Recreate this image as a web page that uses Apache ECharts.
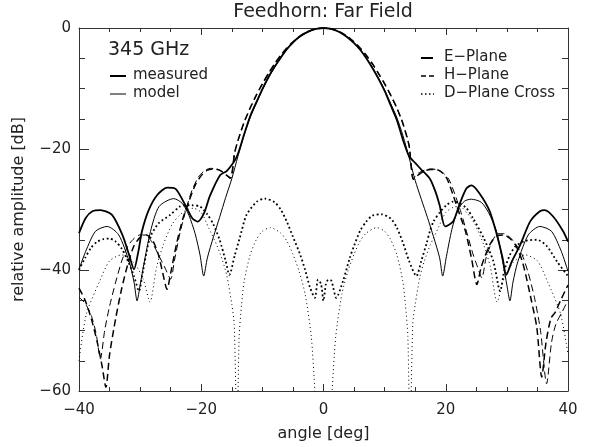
<!DOCTYPE html>
<html>
<head>
<meta charset="utf-8">
<script src="https://cdn.jsdelivr.net/npm/echarts@6/dist/echarts.min.js"></script>
<style>
html, body { margin: 0; padding: 0; background: #fff; }
#chart { width: 600px; height: 447px; }
</style>
</head>
<body>
<div id="chart"></div>
<script>
// values (angle in deg, amplitude in dB)
var xTicks = [-40, -20, 0, 20, 40];
var yTicks = [0, -20, -40, -60];

// E-plane, measured (thick solid)
var eMeasAng = [-40, -38.9, -37.8, -36.5, -34.6, -32.9, -31.8, -31, -30.3, -29.7, -28.6, -27.2, -25.6, -24.2, -22.6, -21.5, -20.6, -19.5, -18.6, -16.9, -15.8, -14.2, -13, -12, -11, -10, -9, -8, -7, -6, -5, -4, -3, -2, -1, 0, 1, 2, 3, 4, 5, 6, 7, 8, 9, 10, 11, 12, 13, 14, 15, 16, 17.4, 18.3, 19, 19.9, 21.2, 22.3, 23.4, 24.2, 25.5, 27.2, 28.5, 29.3, 29.9, 30.8, 32.2, 33.8, 35.4, 36.2, 37.6, 39.2, 40];
var eMeasDb = [-33.9, -31.4, -30.3, -30.1, -30.9, -34.2, -37.5, -39.9, -37, -33.6, -30.1, -27.6, -26.4, -26.6, -29.3, -31.4, -32, -30.5, -27.8, -24.3, -23.6, -21.3, -17.6, -14.6, -12.3, -10.1, -8.1, -6.4, -4.9, -3.5, -2.4, -1.5, -0.85, -0.38, -0.1, 0, -0.1, -0.4, -0.9, -1.6, -2.5, -3.6, -5, -6.6, -8.4, -10.4, -12.8, -15.2, -18.5, -21.2, -22.3, -23.4, -24.9, -27, -29.3, -32.8, -32, -29, -26.5, -26, -27.3, -30.3, -34.7, -38, -40.8, -38.6, -35.8, -32, -30.3, -30.1, -31.2, -33.6, -35.3];

// E-plane, model (thin solid)
var eModAng = [-40, -38.9, -37.3, -35.4, -33.5, -31.8, -31, -30.5, -30, -29.4, -28.3, -26.9, -24.5, -23.1, -22, -21, -20.2, -19.6, -19, -18, -17, -16, -15, -14, -13, -12, -11, -10, -9, -8, -7, -6, -5, -4, -3, -2, -1, 0, 1, 2, 3, 4, 5, 6, 7, 8, 9, 10, 11, 12, 13, 14, 15, 16, 17, 18, 19, 19.5, 20.1, 21, 22, 23.1, 24.2, 25.8, 27, 28.3, 29.4, 30, 30.5, 31, 31.8, 33.5, 35.4, 37.3, 38.9, 40];
var eModDb = [-39.9, -36.9, -33.6, -32.8, -34.2, -38.6, -42, -45.1, -42.5, -39.1, -33.6, -29.5, -28.2, -29, -31, -34, -37.5, -41, -38, -34.5, -31.3, -28, -24.9, -21.2, -17.8, -14.8, -12.5, -10.25, -8.25, -6.5, -4.95, -3.55, -2.45, -1.55, -0.9, -0.4, -0.1, 0, -0.1, -0.4, -0.9, -1.55, -2.45, -3.55, -4.95, -6.5, -8.25, -10.25, -12.5, -14.8, -17.8, -21.4, -25.2, -28.3, -31.3, -34.5, -38, -41, -37.8, -33.3, -30, -28.6, -28.3, -28.8, -30.5, -33.6, -39.1, -42.5, -45.1, -42, -38.6, -34.2, -32.8, -33.6, -36.9, -40.2];

// H-plane, measured (thick dashed)
var hMeasAng = [-40, -39, -38, -37, -36.2, -35.6, -35, -34, -33, -32, -31, -30, -29, -28, -27, -26.3, -25.6, -25, -24, -23, -22, -21, -20, -19, -18, -17, -16, -15.2, -14.5, -14, -13, -12, -11, -10, -9, -8, -7, -6, -5, -4, -3, -2, -1, 0, 1, 2, 3, 4, 5, 6, 7, 8, 9, 10, 11, 12, 13, 14, 14.7, 15.5, 16.5, 17.5, 18.5, 19.3, 20.2, 21.2, 22.3, 23.2, 24.2, 25.1, 25.8, 26.7, 27.5, 28.5, 29.5, 30.5, 31.5, 32.5, 33.2, 34, 34.9, 35.7, 36.4, 37.2, 37.9, 38.8, 39.5, 40];
var hMeasDb = [-43, -45, -48, -52, -56, -59.4, -54, -48, -43, -39, -36, -34.6, -34.2, -35, -37.5, -40.5, -43.2, -40.5, -35.5, -31.5, -28.6, -26, -24.4, -23.5, -23.3, -23.5, -24.2, -24.8, -20.5, -18.6, -15.6, -13.2, -11.1, -9.2, -7.5, -5.9, -4.5, -3.3, -2.3, -1.45, -0.8, -0.35, -0.1, 0, -0.1, -0.35, -0.8, -1.45, -2.3, -3.3, -4.5, -5.9, -7.5, -9.2, -11.1, -13.2, -15.8, -19.5, -25, -24.3, -23.6, -23.4, -23.4, -23.8, -24.9, -27.6, -30.9, -33.5, -38, -42.4, -39.5, -37, -35.3, -34.3, -34.2, -34.8, -36, -38.5, -41.3, -45, -49.5, -57.7, -52, -48, -47, -45, -43.5, -42.5];

// H-plane, model (thin dashed)
var hModAng = [-40, -39, -38, -37.2, -36.5, -35.8, -35, -34, -33, -32, -31, -30, -29, -28, -27, -26, -25, -24.4, -23.5, -22.5, -21.5, -20.5, -19.5, -18.5, -17.5, -16.5, -15.3, -14.6, -14, -13, -12, -11, -10, -9, -8, -7, -6, -5, -4, -3, -2, -1, 0, 1, 2, 3, 4, 5, 6, 7, 8, 9, 10, 11, 12, 13, 14, 14.7, 15.5, 16.5, 17.5, 18.5, 19.5, 20.5, 21.5, 22.5, 23.5, 24.5, 25.2, 25.9, 26.6, 27.5, 28.5, 29.5, 30.5, 31.5, 32.5, 33.5, 34.5, 35.5, 36.5, 37.3, 38, 39, 40];
var hModDb = [-44.5, -45.5, -47.5, -50.5, -54.7, -50, -46, -42, -38.5, -36, -34.8, -34.2, -34.3, -35.5, -37.5, -39.5, -41.5, -38.5, -34, -30, -26.8, -24.7, -23.6, -23.2, -23.3, -23.8, -24.9, -20.8, -18.7, -15.7, -13.3, -11.2, -9.3, -7.6, -6, -4.6, -3.35, -2.35, -1.5, -0.85, -0.38, -0.1, 0, -0.1, -0.38, -0.85, -1.5, -2.35, -3.35, -4.6, -6, -7.6, -9.3, -11.2, -13.3, -15.9, -19.3, -24.8, -24, -23.5, -23.3, -23.4, -23.9, -25, -27.5, -30.5, -34, -37.5, -39.5, -41.3, -38, -35.5, -34, -34, -34.6, -35.8, -37.5, -40.5, -44.5, -50, -58.8, -52, -49, -47, -45];

// D-plane cross-pol, measured (thick dotted)
var dMeasAng = [-40, -39, -38, -37, -36, -35, -34, -33, -32, -31, -30.2, -29.5, -28.4, -27, -25.1, -23.5, -22.9, -21.5, -20.2, -19, -18, -17, -16, -15.4, -14.5, -13.7, -12.6, -10.9, -9.6, -8, -7, -6, -5, -3.8, -3, -2.2, -1.4, -0.9, -0.4, 0, 0.4, 0.8, 1.3, 2.1, 3.2, 4.3, 5, 6, 7, 8, 9.5, 11, 12, 13, 14, 15.2, 16, 16.9, 17.4, 18, 19, 20.1, 21.2, 22, 23.4, 24.5, 26.2, 27.8, 28.9, 29.6, 30.5, 31.5, 33, 34.9, 36.5, 38.2, 40];
var dMeasDb = [-40, -38, -36.3, -35.3, -34.9, -34.8, -35.3, -36.5, -38.5, -41, -43.5, -40, -34.7, -32.3, -30.9, -29.5, -29.3, -29.3, -29.5, -30.8, -32.5, -35, -38.5, -40.8, -37.5, -34.7, -30.9, -28.7, -28.2, -28.8, -30, -32, -34.5, -37.5, -40, -42.9, -44.6, -41.6, -42.3, -45.1, -42.3, -41.6, -41.8, -44.6, -41.8, -38, -36, -33.5, -32, -31, -30.8, -31.5, -33, -35.5, -38.5, -41, -38.5, -35.5, -33.6, -32, -30.5, -29.3, -28.7, -28.8, -29.8, -31.5, -34.7, -38.6, -43.5, -40, -37.5, -36, -35.2, -35, -36, -38.6, -41];

// D-plane cross-pol, model (thin dotted)
var dModAng = [-40, -38.8, -36.6, -35, -33, -31, -29.5, -28.4, -27.3, -26.2, -24.8, -23.5, -22.3, -21.3, -20, -18.8, -17.5, -16.5, -15.8, -15, -14.6, -14.15, -13.8, -13.4, -13, -12, -11, -10, -8.7, -7, -6, -5, -4, -3, -2, -1.4, -1, 0, 1, 1.4, 2, 3, 4, 5, 6, 7, 8.7, 10, 11, 12, 13, 13.4, 13.8, 14.15, 14.6, 15, 15.8, 16.5, 17.5, 18.8, 20, 21.3, 22.3, 23.5, 24.8, 26.2, 27.3, 28.4, 29.5, 31, 33, 35, 36.6, 38.8, 40];
var dModDb = [-55, -47.3, -41.8, -38.5, -37.5, -38.8, -41.5, -45.3, -39.5, -35.8, -32.5, -30.9, -30, -29.8, -30.5, -33, -35.8, -38.5, -41, -45.7, -49, -68, -51, -45.7, -42, -37.5, -35, -33.6, -33, -33.9, -35.2, -37.4, -40.2, -44, -51, -60, -66, -80, -66, -60, -51, -44, -40.2, -37.4, -35.2, -33.9, -33, -33.6, -35, -37.5, -42, -45.7, -51, -68, -49, -45.7, -41, -38.5, -35.8, -33, -30.5, -29.6, -29.5, -30.6, -32.5, -35.8, -39.5, -45.3, -41.5, -38.8, -37.5, -38.5, -41.8, -47.3, -54];

var FONT = '"DejaVu Sans", sans-serif';
var INK = '#222';

function pairs(ang, db) {
  return ang.map(function (a, i) { return [a, db[i]]; });
}
function tickText(list) {
  return function (v) {
    if (list.indexOf(v) < 0) return '';
    return v < 0 ? '\u2212' + (-v) : String(v);
  };
}
function curve(name, ang, db, width, dash) {
  return {
    name: name,
    type: 'line',
    data: pairs(ang, db),
    showSymbol: false,
    smooth: 0.25,
    clip: true,
    lineStyle: { color: '#000', width: width, type: dash, cap: 'butt' },
    emphasis: { disabled: true },
    z: 3
  };
}

var axisLineStyle = { color: '#333', width: 1 };
var labelStyle = { color: INK, fontSize: 15, fontFamily: FONT };
var nameStyle = { color: INK, fontSize: 16, fontFamily: FONT };

var myChart = echarts.init(document.getElementById('chart'));
myChart.setOption({
  animation: false,
  grid: { left: 79, right: 32, top: 28, bottom: 53, containLabel: false },
  xAxis: [
    {
      type: 'value', min: -40, max: 40, interval: 20, position: 'bottom',
      axisLine: { onZero: false, lineStyle: axisLineStyle },
      axisTick: { inside: true, length: 7, lineStyle: axisLineStyle },
      minorTick: { show: true, splitNumber: 4, length: 4, lineStyle: axisLineStyle },
      splitLine: { show: false },
      axisLabel: Object.assign({ formatter: tickText(xTicks), margin: 12 }, labelStyle),
      name: 'angle [deg]', nameLocation: 'middle', nameGap: 35,
      nameTextStyle: nameStyle
    },
    {
      type: 'value', min: -40, max: 40, interval: 20, position: 'top',
      axisLine: { onZero: false, lineStyle: axisLineStyle },
      axisTick: { inside: true, length: 7, lineStyle: axisLineStyle },
      minorTick: { show: true, splitNumber: 4, length: 4, lineStyle: axisLineStyle },
      splitLine: { show: false },
      axisLabel: { show: false }
    }
  ],
  yAxis: [
    {
      type: 'value', min: -60, max: 0, interval: 20, position: 'left',
      axisLine: { onZero: false, lineStyle: axisLineStyle },
      axisTick: { inside: true, length: 10, lineStyle: axisLineStyle },
      minorTick: { show: true, splitNumber: 4, length: 6, lineStyle: axisLineStyle },
      splitLine: { show: false },
      axisLabel: Object.assign({ formatter: tickText(yTicks), margin: 8 }, labelStyle),
      name: 'relative amplitude [dB]', nameLocation: 'middle', nameGap: 52,
      nameTextStyle: nameStyle
    },
    {
      type: 'value', min: -60, max: 0, interval: 20, position: 'right',
      axisLine: { onZero: false, lineStyle: axisLineStyle },
      axisTick: { inside: true, length: 10, lineStyle: axisLineStyle },
      minorTick: { show: true, splitNumber: 4, length: 6, lineStyle: axisLineStyle },
      splitLine: { show: false },
      axisLabel: { show: false }
    }
  ],
  series: [
    curve('E-Plane measured', eMeasAng, eMeasDb, 1.8, 'solid'),
    curve('E-Plane model', eModAng, eModDb, 1, 'solid'),
    curve('H-Plane measured', hMeasAng, hMeasDb, 1.5, [7, 4]),
    curve('H-Plane model', hModAng, hModDb, 1, [7, 4]),
    curve('D-Plane Cross measured', dMeasAng, dMeasDb, 1.8, [1.8, 2.6]),
    curve('D-Plane Cross model', dModAng, dModDb, 1, [1, 3])
  ],
  graphic: [
    { type: 'text', style: { text: 'Feedhorn: Far Field', x: 323, y: 12, font: '19px ' + FONT, fill: INK, align: 'center', verticalAlign: 'middle', textAlign: 'center', textVerticalAlign: 'middle' } },
    { type: 'text', style: { text: '345 GHz', x: 108, y: 50, font: '19px ' + FONT, fill: INK, align: 'left', verticalAlign: 'middle', textAlign: 'left', textVerticalAlign: 'middle' } },
    { type: 'line', shape: { x1: 110, y1: 76, x2: 126, y2: 76 }, style: { stroke: '#000', lineWidth: 2 } },
    { type: 'text', style: { text: 'measured', x: 133, y: 75, font: '15px ' + FONT, fill: INK, align: 'left', verticalAlign: 'middle', textAlign: 'left', textVerticalAlign: 'middle' } },
    { type: 'line', shape: { x1: 110, y1: 94, x2: 126, y2: 94 }, style: { stroke: '#000', lineWidth: 1 } },
    { type: 'text', style: { text: 'model', x: 133, y: 93, font: '15px ' + FONT, fill: INK, align: 'left', verticalAlign: 'middle', textAlign: 'left', textVerticalAlign: 'middle' } },
    { type: 'line', shape: { x1: 421, y1: 58, x2: 433, y2: 58 }, style: { stroke: '#000', lineWidth: 2 } },
    { type: 'text', style: { text: 'E\u2212Plane', x: 444, y: 57, font: '15px ' + FONT, fill: INK, align: 'left', verticalAlign: 'middle', textAlign: 'left', textVerticalAlign: 'middle' } },
    { type: 'line', shape: { x1: 421, y1: 76, x2: 434, y2: 76 }, style: { stroke: '#000', lineWidth: 1.6, lineDash: [5, 3] } },
    { type: 'text', style: { text: 'H\u2212Plane', x: 444, y: 75, font: '15px ' + FONT, fill: INK, align: 'left', verticalAlign: 'middle', textAlign: 'left', textVerticalAlign: 'middle' } },
    { type: 'line', shape: { x1: 421, y1: 94, x2: 434, y2: 94 }, style: { stroke: '#000', lineWidth: 1.6, lineDash: [1.5, 2.5] } },
    { type: 'text', style: { text: 'D\u2212Plane Cross', x: 444, y: 93, font: '15px ' + FONT, fill: INK, align: 'left', verticalAlign: 'middle', textAlign: 'left', textVerticalAlign: 'middle' } }
  ]
});
window.addEventListener('resize', function () {
  myChart.resize();
});
</script>
</body>
</html>
